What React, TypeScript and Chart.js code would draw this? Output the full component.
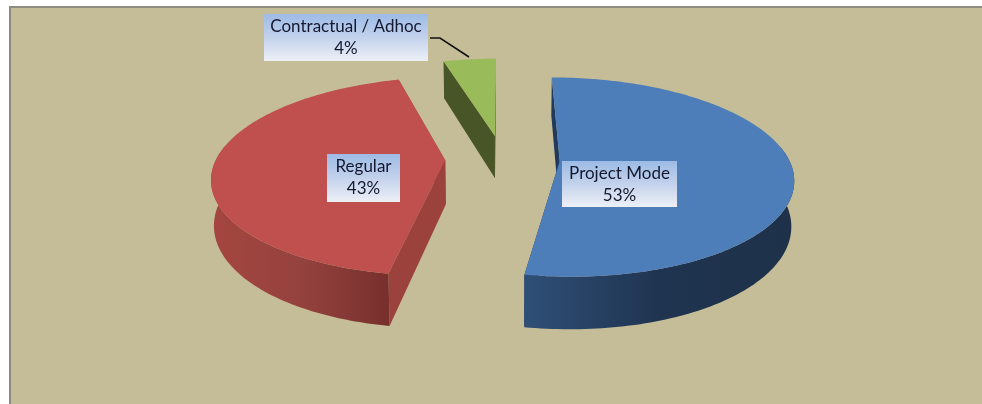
import React, { useEffect, useRef } from "react";
import { Chart, registerables } from "chart.js";

Chart.register(...registerables);

const categories = ["Project Mode", "Regular", "Contractual / Adhoc"];
const shares = [52.7, 42.9, 4.4];
const explosion = [25, 25, 25];
const topColors = ["#4E7EBA", "#BF504D", "#9ABB59"];
const sideStops = [
  ["#2F4F77", "#1F3450", "#1E3149"],
  ["#A5463F", "#95423E", "#78302D"],
  ["#48552A", "#48552A", "#48552A"],
];
const cutColors = ["#1F3A5C", "#9C423D", "#485526"];
const labelBoxes = [
  { x: 562, y: 161, w: 115, h: 46 },
  { x: 327, y: 154, w: 73, h: 48 },
  { x: 264, y: 14, w: 164, h: 47 },
];

const FONT = '17px Lato, "Open Sans", sans-serif';
const BG = "#C5BD97";

type Pt = { x: number; y: number };

// Simple perspective camera for the tilted pie
const cam = { u0: 502.5, v0: 159, f: 229, g: 96.4, k: 0.16, depth: 44 };
const project = (X: number, Y: number, low: boolean): Pt => {
  const w = 1 - cam.k * Y;
  const u = (cam.f * X) / w;
  return {
    x: cam.u0 + (low ? u * 0.99 : u),
    y: cam.v0 + (cam.g * Y + (low ? cam.depth : 0)) / w,
  };
};

const fillPoly = (ctx: CanvasRenderingContext2D, pts: Pt[], fill: string | CanvasGradient) => {
  if (pts.length < 3) return;
  ctx.beginPath();
  pts.forEach((p, i) => (i ? ctx.lineTo(p.x, p.y) : ctx.moveTo(p.x, p.y)));
  ctx.closePath();
  ctx.fillStyle = fill;
  ctx.fill();
};

const pie3d = {
  id: "pie3d",
  beforeDraw(chart: any) {
    const ctx: CanvasRenderingContext2D = chart.ctx;
    const { width, height } = chart;
    ctx.save();
    ctx.fillStyle = "#FFFFFF";
    ctx.fillRect(0, 0, width, height);
    ctx.fillStyle = "#8E8C80";
    ctx.fillRect(9, 6, width - 9, height - 6);
    ctx.fillStyle = BG;
    ctx.fillRect(11, 8, width - 11, height - 8);
    ctx.restore();
  },
  beforeDatasetDraw(chart: any) {
    const ctx: CanvasRenderingContext2D = chart.ctx;
    const arcs = chart.getDatasetMeta(0).data;
    ctx.save();
    arcs.forEach((arc: any, i: number) => {
      const a0 = arc.startAngle;
      const a1 = arc.endAngle;
      const mid = (a0 + a1) / 2;
      const d = (arc.options.offset || 0) / 100;
      const cx = Math.cos(mid) * d;
      const cy = Math.sin(mid) * d;
      const steps = 160;
      const rim: { X: number; Y: number; front: boolean }[] = [];
      for (let s = 0; s <= steps; s++) {
        const a = a0 + ((a1 - a0) * s) / steps;
        rim.push({ X: cx + Math.cos(a), Y: cy + Math.sin(a), front: Math.sin(a) > -0.15 });
      }
      const first = rim[0];
      const last = rim[rim.length - 1];
      // radial cut faces
      [first, last].forEach((r) => {
        fillPoly(
          ctx,
          [project(cx, cy, false), project(r.X, r.Y, false), project(r.X, r.Y, true), project(cx, cy, true)],
          cutColors[i]
        );
      });
      // outer wall
      const front = rim.filter((r) => r.front);
      if (front.length > 1) {
        const tops = front.map((r) => project(r.X, r.Y, false));
        const lows = front.map((r) => project(r.X, r.Y, true)).reverse();
        const xs = tops.map((p) => p.x);
        const g = ctx.createLinearGradient(Math.min(...xs), 0, Math.max(...xs), 0);
        const stops = sideStops[i];
        g.addColorStop(0, stops[0]);
        g.addColorStop(0.5, stops[1]);
        g.addColorStop(1, stops[2]);
        fillPoly(ctx, [...tops, ...lows], g);
      }
      // top face
      fillPoly(
        ctx,
        [project(cx, cy, false), ...rim.map((r) => project(r.X, r.Y, false))],
        arc.options.backgroundColor
      );
    });
    ctx.restore();
    return false;
  },
  afterDatasetsDraw(chart: any) {
    const ctx: CanvasRenderingContext2D = chart.ctx;
    const values: number[] = chart.data.datasets[0].data;
    const total = values.reduce((a, b) => a + b, 0);
    ctx.save();
    // leader line to the small slice
    ctx.strokeStyle = "#101010";
    ctx.lineWidth = 1.5;
    ctx.beginPath();
    ctx.moveTo(430, 38);
    ctx.lineTo(440, 38);
    ctx.lineTo(469, 57);
    ctx.stroke();
    ctx.font = FONT;
    ctx.textAlign = "center";
    ctx.textBaseline = "middle";
    labelBoxes.forEach((b, i) => {
      const g = ctx.createLinearGradient(0, b.y, 0, b.y + b.h);
      g.addColorStop(0, "#9DBBE6");
      g.addColorStop(0.5, "#C3D2EC");
      g.addColorStop(1, "#EDF0F6");
      ctx.fillStyle = g;
      ctx.fillRect(b.x, b.y, b.w, b.h);
      ctx.fillStyle = "#14182F";
      const mx = b.x + b.w / 2;
      ctx.fillText(chart.data.labels[i], mx, b.y + 13);
      ctx.fillText(`${Math.round((values[i] / total) * 100)}%`, mx, b.y + 35);
    });
    ctx.restore();
  },
};

export default function App() {
  const ref = useRef<HTMLCanvasElement>(null);
  useEffect(() => {
    const chart = new Chart(ref.current!, {
      type: "pie",
      data: {
        labels: categories,
        datasets: [
          { data: shares, backgroundColor: topColors, offset: explosion, borderWidth: 0 },
        ],
      },
      options: {
        animation: false,
        responsive: false,
        plugins: { legend: { display: false }, tooltip: { enabled: false } },
      },
      plugins: [pie3d],
    } as any);
    return () => chart.destroy();
  }, []);
  return (
    <div style={{ position: "fixed", left: 0, top: 0, width: 982, height: 404 }}>
      <canvas ref={ref} width={982} height={404} style={{ display: "block", filter: "blur(0.35px)" }} />
    </div>
  );
}
